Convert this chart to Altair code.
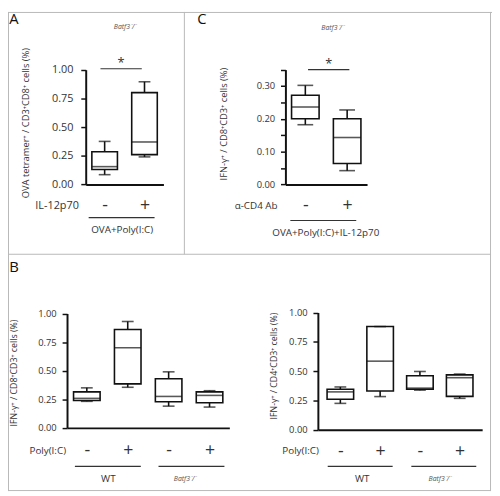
import altair as alt
import pandas as pd

# ---------------- data (box summaries) ----------------
# Panel A  - Batf3-/- , OVA+Poly(I:C), IL-12p70 - / +
a_groups = ["IL-12p70 -", "IL-12p70 +"]
a_low = [0.085, 0.24]
a_q1 = [0.13, 0.26]
a_med = [0.155, 0.37]
a_q3 = [0.285, 0.80]
a_high = [0.375, 0.895]
a_ticks = [0.0, 0.25, 0.50, 0.75, 1.0]

# Panel C  - Batf3-/- , OVA+Poly(I:C)+IL-12p70, anti-CD4 - / +
c_groups = ["aCD4 -", "aCD4 +"]
c_low = [0.182, 0.042]
c_q1 = [0.200, 0.064]
c_med = [0.236, 0.143]
c_q3 = [0.272, 0.200]
c_high = [0.302, 0.227]
c_ticks = [0.0, 0.05, 0.10, 0.15, 0.20, 0.25, 0.30, 0.35]

# Panel B left - IFN-g+ / CD8+CD3+
bl_groups = ["WT -", "WT +", "Batf3 -", "Batf3 +"]
bl_low = [0.232, 0.355, 0.19, 0.182]
bl_q1 = [0.24, 0.385, 0.228, 0.22]
bl_med = [0.258, 0.70, 0.275, 0.284]
bl_q3 = [0.315, 0.86, 0.43, 0.315]
bl_high = [0.35, 0.93, 0.49, 0.325]

# Panel B right - IFN-g+ / CD4+CD3+
br_groups = ["WT -", "WT +", "Batf3 -", "Batf3 +"]
br_low = [0.225, 0.283, 0.338, 0.268]
br_q1 = [0.26, 0.33, 0.345, 0.285]
br_med = [0.323, 0.585, 0.355, 0.444]
br_q3 = [0.345, 0.88, 0.46, 0.468]
br_high = [0.365, 0.88, 0.497, 0.475]
b_ticks = [0.0, 0.25, 0.50, 0.75, 1.0]

# text
batf3 = "Batf3\u207b/\u207b"
a_ytitle = "OVA tetramer\u207a / CD3\u207aCD8\u207a cells (%)"
c_ytitle = "IFN-\u03b3\u207a / CD8\u207aCD3\u207a cells (%)"
bl_ytitle = "IFN-\u03b3\u207a / CD8\u207aCD3\u207a cells (%)"
br_ytitle = "IFN-\u03b3\u207a / CD4\u207aCD3\u207a cells (%)"

# ---------------- layout / style ----------------
M = 8            # page margin
W, H = 492, 488  # drawing area
LINE = "#111111"
TXT = "#333333"
GRID = "#b8b8b8"
FONT = "Open Sans"


def frame(groups, low, q1, med, q3, high):
    return pd.DataFrame({"group": groups, "low": low, "q1": q1,
                         "med": med, "q3": q3, "high": high})


def box_panel(df, groups, xr, xpad, ydom, yr, yvals, yaxis_x, xaxis_y,
              box_w, cap_w, tick_font, tick_pad, xlab_pad, label_expr=None):
    xs = alt.Scale(type="point", domain=groups, range=[xr[0] - M, xr[1] - M], padding=xpad)
    xaxis = alt.Axis(orient="bottom", offset=(xaxis_y - M) - H, title=None, ticks=False,
                     domainColor=LINE, domainWidth=2, labelExpr="slice(datum.label, -1)",
                     labelAngle=0, labelFontSize=18, labelColor=TXT, labelPadding=xlab_pad,
                     labelBaseline="middle", labelFont=FONT)
    ykw = dict(orient="left", offset=-(yaxis_x - M), title=None, values=yvals, format=".2f",
               grid=False, domainColor=LINE, domainWidth=2, tickColor=LINE, tickWidth=1.5,
               tickSize=5, labelFontSize=tick_font, labelColor=TXT, labelPadding=tick_pad,
               labelFont=FONT)
    if label_expr:
        ykw["labelExpr"] = label_expr
    yaxis = alt.Axis(**ykw)
    ys = alt.Scale(domain=ydom, range=[yr[0] - M, yr[1] - M], nice=False, zero=False)
    x = alt.X("group:N", sort=groups, scale=xs, axis=xaxis)

    def Y(f):
        return alt.Y(f + ":Q", scale=ys, axis=yaxis)

    base = alt.Chart(df)
    lo = base.mark_rule(color=LINE, strokeWidth=1.6).encode(x=x, y=Y("low"), y2="q1:Q")
    hi = base.mark_rule(color=LINE, strokeWidth=1.6).encode(x=x, y=Y("q3"), y2="high:Q")
    box = base.mark_bar(size=box_w, fill="white", stroke=LINE, strokeWidth=1.6).encode(
        x=x, y=Y("q1"), y2="q3:Q")
    med = base.mark_tick(orient="horizontal", size=box_w, thickness=1.6, color=LINE).encode(
        x=x, y=Y("med"))
    clo = base.mark_tick(orient="horizontal", size=cap_w, thickness=1.6, color=LINE).encode(
        x=x, y=Y("low"))
    chi = base.mark_tick(orient="horizontal", size=cap_w, thickness=1.6, color=LINE).encode(
        x=x, y=Y("high"))
    return alt.layer(lo, hi, box, med, clo, chi)


def label(text, x, y, size=10, align="center", angle=0, italic=False, color=TXT):
    return alt.Chart(pd.DataFrame({"t": [text]})).mark_text(
        align=align, baseline="middle", fontSize=size, angle=angle,
        fontStyle="italic" if italic else "normal", color=color, font=FONT
    ).encode(x=alt.value(x - M), y=alt.value(y - M), text="t:N")


def hline(x1, x2, y, color=TXT, width=1.2):
    return alt.Chart(pd.DataFrame({"k": [0]})).mark_rule(color=color, strokeWidth=width).encode(
        x=alt.value(x1 - M), x2=alt.value(x2 - M), y=alt.value(y - M))


def vline(x, y1, y2, color=GRID, width=1):
    return alt.Chart(pd.DataFrame({"k": [0]})).mark_rule(color=color, strokeWidth=width).encode(
        x=alt.value(x - M), y=alt.value(y1 - M), y2=alt.value(y2 - M))


panel_a = box_panel(frame(a_groups, a_low, a_q1, a_med, a_q3, a_high), a_groups,
                    xr=(87, 166), xpad=0.475, ydom=[0, 1], yr=(183.3, 66.7), yvals=a_ticks,
                    yaxis_x=87, xaxis_y=183.3, box_w=26, cap_w=12, tick_font=11,
                    tick_pad=8, xlab_pad=22)
panel_c = box_panel(frame(c_groups, c_low, c_q1, c_med, c_q3, c_high), c_groups,
                    xr=(290, 373), xpad=0.476, ydom=[0, 0.35], yr=(183.3, 66.6), yvals=c_ticks,
                    yaxis_x=290, xaxis_y=183.3, box_w=28, cap_w=16, tick_font=9.5,
                    tick_pad=6, xlab_pad=22,
                    label_expr="round(datum.value*100) % 10 == 0 ? datum.label : ''")
panel_bl = box_panel(frame(bl_groups, bl_low, bl_q1, bl_med, bl_q3, bl_high), bl_groups,
                     xr=(68, 233), xpad=0.484, ydom=[0, 1], yr=(430.8, 314.5), yvals=b_ticks,
                     yaxis_x=68, xaxis_y=430.8, box_w=27, cap_w=12, tick_font=9.5,
                     tick_pad=6, xlab_pad=23)
panel_br = box_panel(frame(br_groups, br_low, br_q1, br_med, br_q3, br_high), br_groups,
                     xr=(323, 490), xpad=0.565, ydom=[0, 1], yr=(432.7, 313.5), yvals=b_ticks,
                     yaxis_x=323, xaxis_y=432.7, box_w=27, cap_w=12, tick_font=9.5,
                     tick_pad=6, xlab_pad=22)

frames = [
    hline(8, 500, 8.5, GRID, 1), hline(8, 499, 254.3, GRID, 1), hline(8, 499, 494.5, GRID, 1),
    vline(8.5, 8, 495), vline(498.5, 8, 495), vline(187.3, 8, 254.3),
]

notes = [
    # panel A
    label("A", 14, 15, size=15, color="#111"),
    label(batf3, 127, 23, size=7, italic=True, color="#555"),
    label(a_ytitle, 26, 121, size=9.5, angle=270),
    label("*", 123, 60, size=13),
    hline(102, 144, 65.7),
    label("IL-12p70", 80, 205, size=11, align="right"),
    hline(90, 157, 217),
    label("OVA+Poly(I:C)", 124, 230, size=10),
    # panel C
    label("C", 205, 15, size=15, color="#111"),
    label(batf3, 338, 24, size=7, italic=True, color="#555"),
    label(c_ytitle, 228, 122, size=9.5, angle=270),
    label("*", 334, 61, size=13),
    hline(313, 355, 66.7),
    label("\u03b1-CD4 Ab", 282, 205, size=10, align="right"),
    hline(295, 362, 220),
    label("OVA+Poly(I:C)+IL-12p70", 331, 233, size=10),
    # panel B
    label("B", 14, 267, size=15, color="#111"),
    label(bl_ytitle, 14, 375, size=9, angle=270),
    label("Poly(I:C)", 67, 454, size=10, align="right"),
    hline(76, 143, 470), hline(161, 228, 470),
    label("WT", 110, 483, size=10),
    label(batf3, 188, 483, size=7, italic=True, color="#555"),
    label(br_ytitle, 278, 368, size=9, angle=270),
    label("Poly(I:C)", 324, 454, size=10, align="right"),
    hline(333, 399, 470), hline(418, 484, 470),
    label("WT", 368, 483, size=10),
    label(batf3, 447, 483, size=7, italic=True, color="#555"),
]

chart = alt.layer(
    *frames, panel_a, panel_c, panel_bl, panel_br, *notes
).resolve_scale(
    x="independent", y="independent"
).properties(
    width=W, height=H, padding=0,
    autosize=alt.AutoSizeParams(type="none"),
).configure(font=FONT).configure_view(stroke=None)

chart.save("out.html", embed_options={"renderer": "svg", "actions": False})
